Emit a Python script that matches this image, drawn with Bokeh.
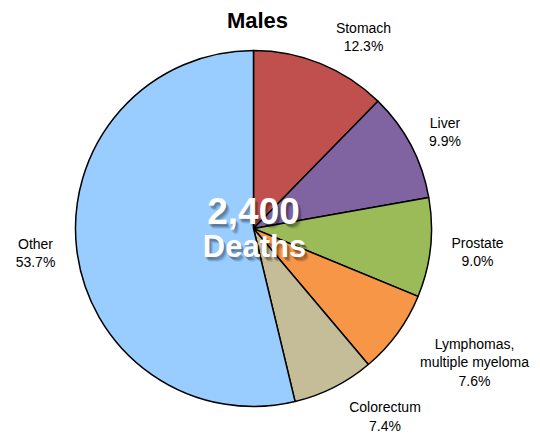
import math
from bokeh.plotting import figure
from bokeh.models import ColumnDataSource, Range1d
from bokeh.core.properties import value
from bokeh.embed import file_html
from bokeh.resources import INLINE

# ---- data ----
categories = ["Stomach", "Liver", "Prostate", "Lymphomas, multiple myeloma", "Colorectum", "Other"]
label_lines = [["Stomach"], ["Liver"], ["Prostate"], ["Lymphomas,", "multiple myeloma"], ["Colorectum"], ["Other"]]
percents = [12.3, 9.9, 9.0, 7.6, 7.4, 53.7]
colors = ["#C0504D", "#8064A2", "#9BBB59", "#F79646", "#C4BD97", "#99CCFF"]
title_text = "Males"
total_text = "2,400"
total_sub = "Deaths"

# ---- layout ----
W, H = 540, 436
cx, cy, R = 253, 208, 178
FONT = "Liberation Sans"

p = figure(width=W, height=H, output_backend="svg", toolbar_location=None,
           x_range=Range1d(0, W), y_range=Range1d(0, H), min_border=0)
p.axis.visible = False
p.grid.visible = False
p.outline_line_color = None
p.background_fill_color = "white"
p.border_fill_color = "white"

tot = sum(percents)
starts, ends = [], []
acc = 0.0
for v in percents:
    starts.append(math.pi / 2 - 2 * math.pi * acc / tot)
    acc += v
    ends.append(math.pi / 2 - 2 * math.pi * acc / tot)

src = ColumnDataSource(dict(x=[cx] * len(percents), y=[cy] * len(percents),
                            start=starts, end=ends, color=colors))
p.wedge(x="x", y="y", radius=R, start_angle="start", end_angle="end",
        direction="clock", fill_color="color", line_color="black",
        line_width=1.5, source=src)

# label anchor positions (in plot pixels), top line
label_pos = [(363, 409), (444.5, 314), (477, 194), (474, 93), (384.5, 29.5), (35, 193)]
LS = 18.5
tx, ty, tt = [], [], []
for lines, pct, (lx, ly) in zip(label_lines, percents, label_pos):
    all_lines = lines + ["%.1f%%" % pct]
    for i, s in enumerate(all_lines):
        tx.append(lx)
        ty.append(ly - i * LS)
        tt.append(s)
p.text(x=tx, y=ty, text=tt, text_align="center", text_baseline="middle",
       text_font=value(FONT), text_font_size="14px", text_color="black")

# title
p.text(x=[257], y=[416], text=[title_text], text_align="center", text_baseline="middle",
       text_font=value(FONT), text_font_size="22px", text_font_style="bold",
       text_color="black")

# center text with soft shadow
for (dx, dy, a) in [(2, -3, 0.18), (3, -4, 0.12), (1, -2, 0.15), (4, -5, 0.08)]:
    p.text(x=[cx + dx], y=[226 + dy], text=[total_text], text_align="center",
           text_baseline="middle", text_font=value(FONT), text_font_size="37px",
           text_font_style="bold", text_color="black", text_alpha=a)
    p.text(x=[cx + 1 + dx], y=[190 + dy], text=[total_sub], text_align="center",
           text_baseline="middle", text_font=value(FONT), text_font_size="31px",
           text_font_style="bold", text_color="black", text_alpha=a)
p.text(x=[cx], y=[226], text=[total_text], text_align="center", text_baseline="middle",
       text_font=value(FONT), text_font_size="37px", text_font_style="bold",
       text_color="white")
p.text(x=[cx + 1], y=[190], text=[total_sub], text_align="center", text_baseline="middle",
       text_font=value(FONT), text_font_size="31px", text_font_style="bold",
       text_color="white")

open("out.html", "w").write(file_html(p, INLINE))
